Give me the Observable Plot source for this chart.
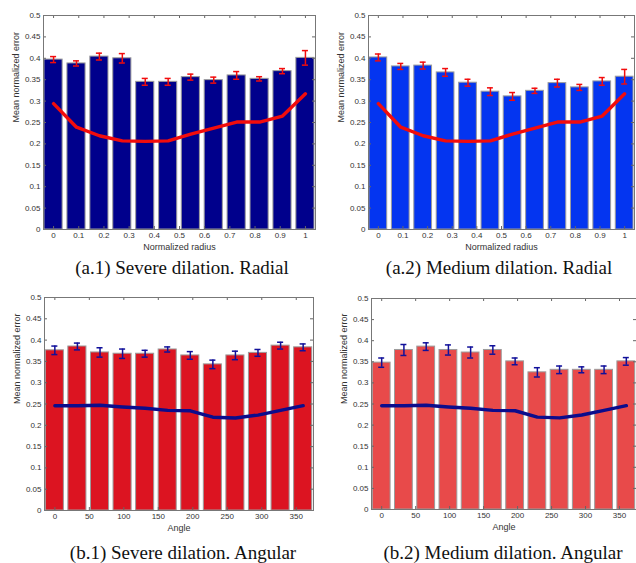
<!DOCTYPE html>
<html>
<head>
<meta charset="utf-8">
<script src="https://cdn.jsdelivr.net/npm/d3@7"></script>
<script src="https://cdn.jsdelivr.net/npm/@observablehq/plot@0.6"></script>
<style>
  html, body { margin: 0; padding: 0; background: #fff; }
  #wrap { position: relative; width: 636px; height: 563px; overflow: hidden; }
  .panel { position: absolute; }
  .cap { position: absolute; font-family: "Liberation Serif", "DejaVu Serif", serif; font-size: 19px; color: #111; white-space: nowrap; transform: translate(-50%, -50%); }
</style>
</head>
<body>
<div id="wrap"></div>
<script>
// ---- data ----
const yTicks = [0, 0.05, 0.1, 0.15, 0.2, 0.25, 0.3, 0.35, 0.4, 0.45, 0.5];
const radiusTicks = [0, 0.1, 0.2, 0.3, 0.4, 0.5, 0.6, 0.7, 0.8, 0.9, 1];
const angleTicks = [0, 50, 100, 150, 200, 250, 300, 350];
const radiusCenters = [0, 0.091, 0.182, 0.273, 0.364, 0.455, 0.545, 0.636, 0.727, 0.818, 0.909, 1];
const angleCenters = [0, 32.7, 65.5, 98.2, 130.9, 163.6, 196.4, 229.1, 261.8, 294.5, 327.3, 360];

const a1Mean = [0.397, 0.388, 0.404, 0.400, 0.345, 0.345, 0.356, 0.349, 0.360, 0.352, 0.370, 0.401];
const a1Err  = [0.007, 0.006, 0.008, 0.011, 0.008, 0.008, 0.007, 0.007, 0.009, 0.005, 0.006, 0.017];
const a2Mean = [0.402, 0.381, 0.383, 0.367, 0.343, 0.322, 0.311, 0.324, 0.342, 0.332, 0.346, 0.357];
const a2Err  = [0.008, 0.007, 0.008, 0.009, 0.008, 0.009, 0.009, 0.006, 0.009, 0.007, 0.009, 0.017];
const radialLine = [0.294, 0.239, 0.219, 0.207, 0.206, 0.207, 0.223, 0.237, 0.251, 0.251, 0.265, 0.317];

const b1Mean = [0.376, 0.385, 0.371, 0.368, 0.368, 0.378, 0.364, 0.343, 0.364, 0.370, 0.387, 0.383];
const b1Err  = [0.010, 0.008, 0.011, 0.011, 0.008, 0.006, 0.009, 0.010, 0.010, 0.008, 0.008, 0.008];
const b2Mean = [0.348, 0.378, 0.386, 0.378, 0.372, 0.378, 0.351, 0.325, 0.331, 0.331, 0.331, 0.351];
const b2Err  = [0.011, 0.013, 0.009, 0.012, 0.013, 0.010, 0.008, 0.011, 0.009, 0.007, 0.009, 0.009];
const angularLine = [0.246, 0.246, 0.247, 0.243, 0.240, 0.235, 0.234, 0.219, 0.217, 0.224, 0.235, 0.246];

const yLabel = "Mean normalized error";
const captions = ["(a.1) Severe dilation. Radial", "(a.2) Medium dilation. Radial", "(b.1) Severe dilation. Angular", "(b.2) Medium dilation. Angular"];

// ---- panel builder ----
function panel(cfg) {
  const {centers, mean, err, line, xTicks, xDomain, xLabel, barFill, accent, lineColor,
         left, top, width, height, mL, mR, mT, mB, halfBar, capHalf} = cfg;
  const rows = centers.map((c, i) => ({x: c, v: mean[i], e: err[i], l: line[i]}));
  const W = width - mL - mR, H = height - mT - mB;
  const font = "Liberation Sans, Arial, sans-serif";
  const chart = Plot.plot({
    width, height,
    marginLeft: mL, marginRight: mR, marginTop: mT, marginBottom: mB,
    style: {fontFamily: font, fontSize: "8px", color: "#333", background: "white", overflow: "visible"},
    x: {domain: xDomain, axis: null},
    y: {domain: [0, 0.5], axis: null},
    marks: [
      Plot.rectY(rows, {x1: d => d.x - halfBar, x2: d => d.x + halfBar, y1: 0, y2: "v",
                        fill: barFill, stroke: "#9c9c9c", strokeWidth: 1}),
      Plot.line(rows, {x: "x", y: "l", stroke: lineColor, strokeWidth: 3.4, curve: "linear"}),
      Plot.ruleX(rows, {x: "x", y1: d => d.v - d.e, y2: d => d.v + d.e, stroke: accent, strokeWidth: 1.5}),
      Plot.ruleY(rows, {y: d => d.v + d.e, x1: d => d.x - capHalf, x2: d => d.x + capHalf, stroke: accent, strokeWidth: 1.5}),
      Plot.ruleY(rows, {y: d => d.v - d.e, x1: d => d.x - capHalf, x2: d => d.x + capHalf, stroke: accent, strokeWidth: 1.5}),
      // inside ticks
      Plot.ruleY(yTicks, {y: d => d, insetRight: W - 3, stroke: "#666"}),
      Plot.ruleY(yTicks, {y: d => d, insetLeft: W - 3, stroke: "#666"}),
      Plot.ruleX(xTicks, {x: d => d, insetTop: H - 3, stroke: "#666"}),
      Plot.ruleX(xTicks, {x: d => d, insetBottom: H - 3, stroke: "#666"}),
      Plot.frame({stroke: "#777", strokeWidth: 1}),
      Plot.axisY(yTicks, {tickSize: 0, tickPadding: 3, label: null, fontSize: 8, fill: "#333",
                          tickFormat: d => String(d)}),
      Plot.axisX(xTicks, {tickSize: 0, tickPadding: 3, label: null, fontSize: 8, fill: "#333",
                          tickFormat: d => String(d)}),
      Plot.text([xLabel], {text: d => d, frameAnchor: "bottom", dy: 18, fontSize: 9, fill: "#333", lineAnchor: "middle"}),
      Plot.text([yLabel], {text: d => d, frameAnchor: "left", dx: -27, rotate: -90, fontSize: 9, fill: "#333", lineAnchor: "middle"})
    ]
  });
  const div = document.createElement("div");
  div.className = "panel";
  div.style.left = left + "px";
  div.style.top = top + "px";
  div.appendChild(chart);
  document.getElementById("wrap").appendChild(div);
}

function caption(text, cx, cy) {
  const d = document.createElement("div");
  d.className = "cap";
  d.textContent = text;
  d.style.left = cx + "px";
  d.style.top = cy + "px";
  document.getElementById("wrap").appendChild(d);
}

const radialBase = {centers: radiusCenters, line: radialLine, xTicks: radiusTicks, xDomain: [-0.04, 1.04],
                    xLabel: "Normalized radius", accent: "#f20c0c", lineColor: "#f20c0c",
                    halfBar: 0.036, capHalf: 0.012, width: 318, height: 256};
const angularBase = {centers: angleCenters, line: angularLine, xTicks: angleTicks, xDomain: [-15, 375],
                     xLabel: "Angle", accent: "#10109a", lineColor: "#0c0c8c",
                     halfBar: 13.1, capHalf: 4.4, width: 318, height: 256};

panel({...radialBase, mean: a1Mean, err: a1Err, barFill: "#00008c", left: 0, top: 0, mL: 43, mR: 3, mT: 15, mB: 27});
panel({...radialBase, mean: a2Mean, err: a2Err, barFill: "#0435f0", left: 318, top: 0, mL: 50, mR: 2, mT: 15, mB: 27});
panel({...angularBase, mean: b1Mean, err: b1Err, barFill: "#dc1421", left: 0, top: 282, mL: 44, mR: 5, mT: 15, mB: 28});
panel({...angularBase, mean: b2Mean, err: b2Err, barFill: "#e84a4a", left: 318, top: 282, mL: 53, mR: 0, mT: 16, mB: 29});

caption(captions[0], 182, 268);
caption(captions[1], 499, 268);
caption(captions[2], 183, 553);
caption(captions[3], 503, 553);
</script>
</body>
</html>
